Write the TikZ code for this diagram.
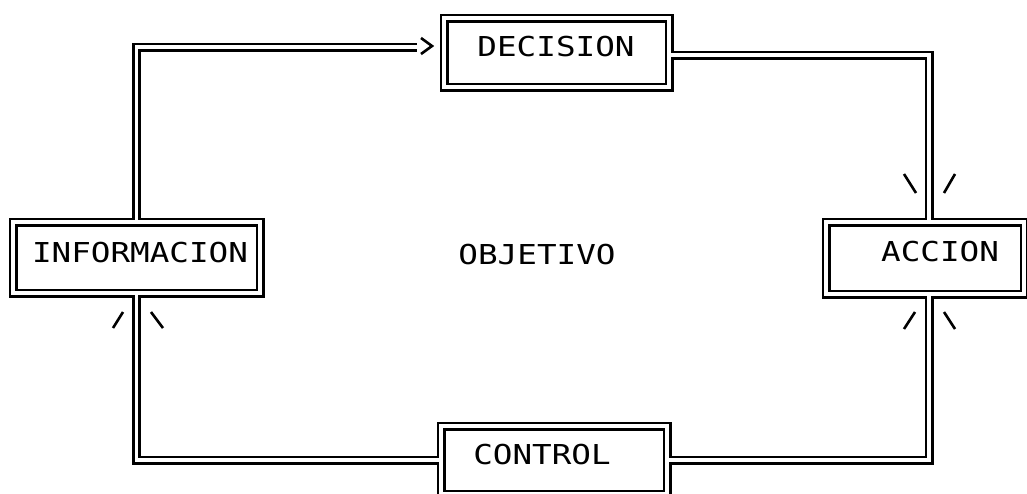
\documentclass[tikz,border=0pt]{standalone}
\usepackage{fontspec}
\newfontfamily\plotfont[FakeStretch=1.19]{DejaVu Sans Mono}
\begin{document}
\begin{tikzpicture}[x=1pt,y=-1pt,
  box/.style={draw=none, rectangle, inner sep=0pt, outer sep=0pt},
  lbl/.style={font=\plotfont\fontsize{27.4}{30}\selectfont, inner sep=0pt},
  tick/.style={line width=2.6pt},
  pipeout/.style={line width=9pt, black},
  pipein/.style={line width=3.4pt, white}]
\useasboundingbox (0,0) rectangle (1027,493);
\clip (0,0) rectangle (1027,493);

% box outlines (centre line of the double border)
\node[box, minimum width=225pt, minimum height=69pt] (dec)  at (556.5,52.5) {};
\node[box, minimum width=247pt, minimum height=71pt] (info) at (136.5,257.5) {};
\node[box, minimum width=198pt, minimum height=72pt] (acc)  at (925,258) {};
\node[box, minimum width=226pt, minimum height=68pt] (ctl)  at (554,460) {};

% corners of the loop
\coordinate (nw) at (136.5,47);
\coordinate (tail) at (417,47);
\coordinate (ne) at (929,55);
\coordinate (se) at (929,460);
\coordinate (sw) at (136.5,460);

% the double-walled loop: black walls first, then the white channel
\newcommand\pipenet{%
  (dec.north west) rectangle (dec.south east)
  (info.north west) rectangle (info.south east)
  (acc.north west) rectangle (acc.south east)
  (ctl.north west) rectangle (ctl.south east)
  (info.north) -- (nw) -- (tail)
  (dec.east |- ne) -- (ne) -- (ne |- acc.north)
  (ne |- acc.south) -- (se) -- (ctl.east |- se)
  (ctl.west |- sw) -- (sw) -- (info.south)}
\draw[pipeout] \pipenet;
\draw[pipein] \pipenet;

% open arrow head in front of DECISION
\coordinate (tip) at (432,46);
\draw[tick] (421,38) -- (tip) -- (421,54);

% flashes beside the joints
\draw[tick] (904,174) -- (916,193);
\draw[tick] (955,174) -- (944,193);
\draw[tick] (904,329) -- (915,312);
\draw[tick] (955,329) -- (944,312);
\draw[tick] (113,328) -- (123,312);
\draw[tick] (163,328) -- (151,312);

% labels
\node[lbl] (dect) at (556,47) {DECISION};
\node[lbl] (infot) at (140,253) {INFORMACION};
\node[lbl] (acct) at (940,252) {ACCION};
\node[lbl] (ctlt) at (542,455) {CONTROL};
\node[lbl] (obj) at (537,255) {OBJETIVO};
\end{tikzpicture}
\end{document}
